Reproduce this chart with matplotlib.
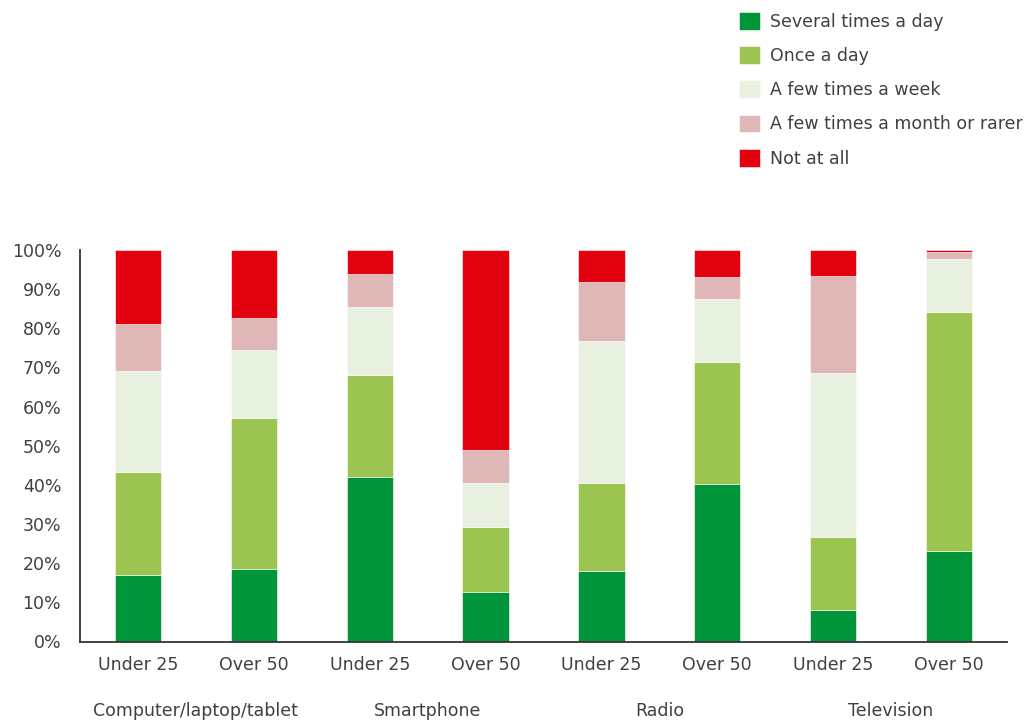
import matplotlib
matplotlib.use("Agg")
import matplotlib.pyplot as plt
import matplotlib.transforms as mtransforms
import numpy as np

plt.rcParams['font.family'] = ['DejaVu Sans']

# Survey shares (%) per device and age group
groups = ["Computer/laptop/tablet", "Smartphone", "Radio", "Television"]
ages = ["Under 25", "Over 50"]
tick_labels = [a for _ in groups for a in ages]

series_names = ["Several times a day", "Once a day", "A few times a week",
                "A few times a month or rarer", "Not at all"]
several_times_a_day = [17.1, 18.4, 42.0, 12.7, 18.1, 40.3, 8.1, 23.2]
once_a_day          = [26.1, 38.8, 26.1, 16.6, 22.5, 31.1, 18.7, 60.9]
few_times_a_week    = [25.9, 17.3, 17.4, 11.1, 36.1, 16.1, 41.9, 13.7]
few_times_a_month   = [11.9,  8.1,  8.4,  8.4, 15.2,  5.6, 24.6,  1.6]
not_at_all          = [19.0, 17.4,  6.1, 51.2,  8.1,  6.9,  6.7,  0.6]

colors = ["#00943B", "#9BC451", "#E8F0DF", "#E0B7B7", "#E3000F"]
text_color = "#404040"

fig = plt.figure(figsize=(10.27, 7.21), dpi=100)
ax = fig.add_axes([80 / 1027, 1 - 641.5 / 721, 927 / 1027, 391.5 / 721])

x = np.arange(len(tick_labels))
bottom = np.zeros(len(x))
handles = []
for name, vals, col in zip(series_names,
                           [several_times_a_day, once_a_day, few_times_a_week,
                            few_times_a_month, not_at_all], colors):
    vals = np.array(vals)
    b = ax.bar(x, vals, width=0.4, bottom=bottom, color=col,
               edgecolor="white", linewidth=0.4, label=name)
    handles.append(b)
    bottom += vals

ax.set_xlim(-0.5, 7.5)
ax.set_ylim(0, 100)
ax.set_yticks(np.arange(0, 101, 10))
ax.set_yticklabels([f"{v}%" for v in range(0, 101, 10)])
ax.set_xticks(x)
ax.set_xticklabels(tick_labels)
ax.tick_params(axis="y", length=0, pad=13.5, labelsize=12.5, labelcolor=text_color)
ax.tick_params(axis="x", length=0, pad=10.5, labelsize=12.5, labelcolor=text_color)

for side in ["top", "right"]:
    ax.spines[side].set_visible(False)
for side in ["left", "bottom"]:
    ax.spines[side].set_color("#333333")
    ax.spines[side].set_linewidth(1.3)

# Device group labels centred under each pair of bars
group_tf = mtransforms.blended_transform_factory(ax.transData, fig.transFigure)
for i, g in enumerate(groups):
    ax.text(2 * i + 0.5, 1 - 711 / 721, g, transform=group_tf,
            ha="center", va="center", fontsize=12.5, color=text_color)

fig.legend(handles=handles, labels=series_names, loc="upper left",
           bbox_to_anchor=(739 / 1027, 1 - 12 / 721), frameon=False,
           fontsize=12.5, handlelength=1.2, handleheight=1.2,
           handletextpad=0.6, labelspacing=0.89, labelcolor=text_color,
           borderaxespad=0, borderpad=0)

fig.savefig("out.png", dpi=100)
